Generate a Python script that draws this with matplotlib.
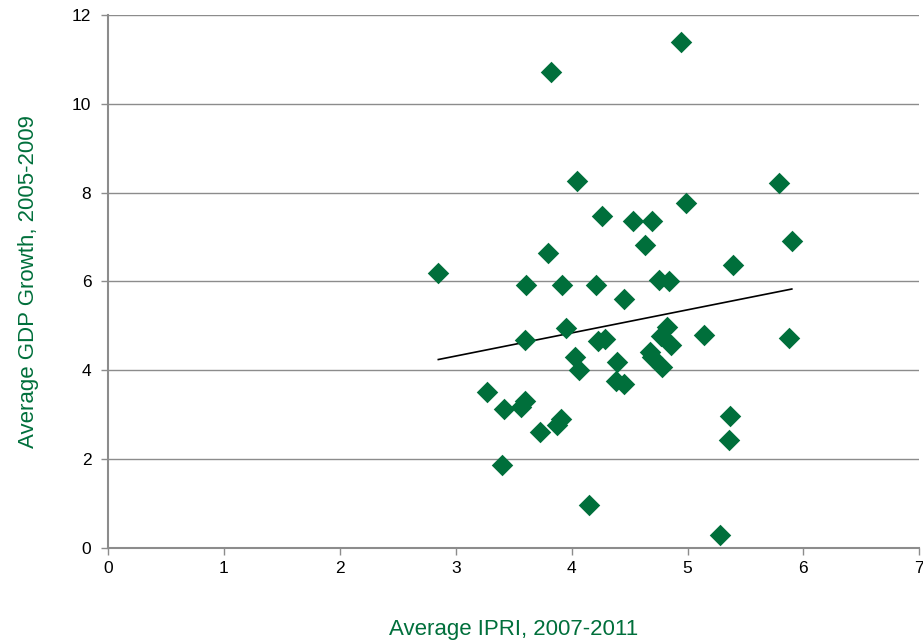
import numpy as np
import matplotlib.pyplot as plt

plt.rcParams['font.family'] = ['Liberation Sans', 'DejaVu Sans']

# Average IPRI 2007-2011 vs average GDP growth 2005-2009
ipri = [2.85, 3.27, 3.42, 3.40, 3.56, 3.60, 3.61, 3.60, 3.73, 3.80, 3.82,
        3.87, 3.91, 3.92, 3.95, 4.03, 4.06, 4.05, 4.15, 4.21, 4.26, 4.23,
        4.29, 4.39, 4.38, 4.45, 4.45, 4.53, 4.63, 4.69, 4.68, 4.69, 4.75,
        4.84, 4.78, 4.77, 4.82, 4.86, 4.94, 4.99, 5.14, 5.28, 5.39, 5.37,
        5.36, 5.79, 5.90, 5.88]
gdp = [6.18, 3.52, 3.13, 1.87, 3.18, 3.32, 5.92, 4.68, 2.62, 6.63, 10.72,
       2.77, 2.90, 5.92, 4.95, 4.29, 4.01, 8.26, 0.97, 5.92, 7.47, 4.66,
       4.70, 4.18, 3.77, 3.69, 5.61, 7.35, 6.82, 7.35, 4.42, 4.31, 6.03,
       6.02, 4.08, 4.77, 4.98, 4.57, 11.39, 7.77, 4.79, 0.29, 6.37, 2.97,
       2.43, 8.22, 6.90, 4.72]

green = '#006f3b'
grey = '#8c8c8c'

fig = plt.figure(figsize=(9.23, 6.41), dpi=100)
ax = fig.add_axes([0.117, 0.145, 0.879, 0.832])

ax.scatter(ipri, gdp, marker='D', s=120, color=green, zorder=3, linewidths=0)

# linear trend line
slope, intercept = np.polyfit(ipri, gdp, 1)
xs = np.array([min(ipri), max(ipri)])
ax.plot(xs, slope * xs + intercept, color='black', lw=1.2, zorder=2)

ax.set_xlim(0, 7)
ax.set_ylim(0, 12)
ax.set_xticks(range(0, 8))
ax.set_yticks(range(0, 13, 2))
ax.yaxis.grid(True, color=grey, lw=1)
ax.set_axisbelow(True)

for side in ['top', 'right']:
    ax.spines[side].set_visible(False)
for side in ['left', 'bottom']:
    ax.spines[side].set_color(grey)
    ax.spines[side].set_linewidth(1.5)
ax.tick_params(colors=grey, labelcolor='black', labelsize=12.5, length=5, width=1)
ax.tick_params(axis='x', pad=4)
ax.tick_params(axis='y', pad=7)

ax.set_xlabel('Average IPRI, 2007-2011', color=green, fontsize=16, labelpad=31)
ax.set_ylabel('Average GDP Growth, 2005-2009', color=green, fontsize=16, labelpad=24)

fig.savefig('out.png', dpi=100)
